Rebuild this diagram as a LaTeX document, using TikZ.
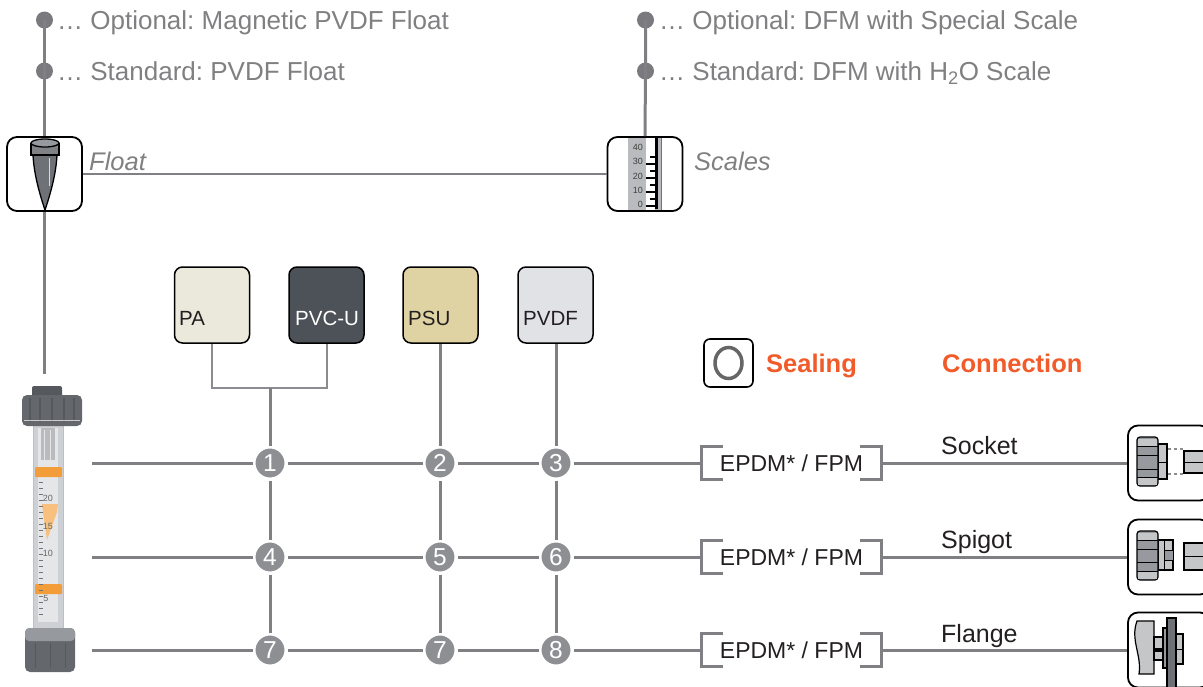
\documentclass[tikz,border=0pt]{standalone}
\usepackage{fontspec}
\setmainfont{Liberation Sans}
\usetikzlibrary{calc}
\definecolor{lg}{RGB}{128,128,132}
\definecolor{lgl}{RGB}{140,140,144}
\definecolor{dotg}{RGB}{122,122,126}
\definecolor{toptxt}{RGB}{128,128,130}
\definecolor{numg}{RGB}{142,143,147}
\definecolor{darktxt}{RGB}{35,31,32}
\definecolor{orng}{RGB}{241,90,41}
\definecolor{paC}{RGB}{235,232,220}
\definecolor{pvcC}{RGB}{77,82,88}
\definecolor{psuC}{RGB}{223,211,164}
\definecolor{pvdfC}{RGB}{225,226,230}
\definecolor{nutD}{RGB}{85,88,93}
\definecolor{nutM}{RGB}{100,103,108}
\definecolor{tubeG}{RGB}{205,208,212}
\definecolor{tubeL}{RGB}{228,230,232}
\definecolor{bandO}{RGB}{243,156,58}
\definecolor{floatO}{RGB}{247,192,126}
\definecolor{iconG}{RGB}{150,153,157}
\definecolor{iconL}{RGB}{196,198,200}
\definecolor{iconD}{RGB}{110,113,118}
\definecolor{scaleG}{RGB}{185,187,190}
\begin{document}
\frenchspacing
\begin{tikzpicture}[x=1pt,y=-1pt,
  mainline/.style={draw=lg, line width=3},
  thinline/.style={draw=lg, line width=2},
  brline/.style={draw=lgl, line width=2},
  brk/.style={draw=lg, line width=3},
  dot/.style={circle, fill=dotg, minimum size=17, inner sep=0},
  iconbox/.style={draw=black, line width=1.8, rounded corners=10, minimum width=75, minimum height=74, inner sep=0},
  matbox/.style={draw=black, line width=1.5, rounded corners=8, minimum width=75, minimum height=76, inner sep=0},
  num/.style={circle, fill=numg, draw=white, line width=3, minimum size=32, inner sep=0, text=white, font=\fontsize{24.5}{28}\selectfont},
  toptext/.style={text=toptxt, inner sep=0, font=\fontsize{26}{30}\selectfont},
  ittext/.style={text=toptxt, inner sep=0, font=\fontsize{25.5}{30}\selectfont\itshape},
  mattext/.style={text=darktxt, inner sep=0, font=\fontsize{20.5}{24}\selectfont},
  sealnode/.style={minimum width=179, minimum height=32, inner sep=0, text=darktxt, font=\fontsize{23}{27}\selectfont},
  conntext/.style={text=darktxt, inner sep=0, font=\fontsize{25}{29}\selectfont},
  headtext/.style={text=orng, inner sep=0, font=\fontsize{25.5}{30}\selectfont\bfseries},
  connbox/.style={draw=black, line width=1.8, rounded corners=10, minimum width=82, minimum height=75, inner sep=0, fill=white},
  tinynum/.style={text=black!75, inner sep=0, font=\fontsize{9}{10}\selectfont}
]
\useasboundingbox (0,0) rectangle (1203,686);
\clip (0,0) rectangle (1203,686);

% ---------- top left ----------
\node[dot] (dL1) at (44.5,20) {};
\node[dot] (dL2) at (44.5,71) {};
\node[toptext, anchor=base west] (tL1) at (57,29) {… Optional: Magnetic PVDF Float};
\node[toptext, anchor=base west] (tL2) at (57,80) {… Standard: PVDF Float};
\node[iconbox, fill=white] (floatbox) at (44.5,174) {};
% float icon
\draw[fill=iconD, line width=1.3] (33,155) .. controls (34,175) and (40,195) .. (45,210) .. controls (50,195) and (56,175) .. (57,155) -- cycle;
\draw[white!70!gray, line width=1.3] (49.5,158) -- (49.5,186);
\draw[fill=iconG!85!black, line width=1.3] (31,143) -- (31,155) -- (59,155) -- (59,143);
\draw[fill=iconG, line width=1.3] (45,143) ellipse [x radius=14, y radius=4];
\node[ittext, anchor=base west] (floatlbl) at (89,170) {Float};

% ---------- top right ----------
\node[dot] (dR1) at (645.5,20) {};
\node[dot] (dR2) at (645.5,71) {};
\node[toptext, anchor=base west] (tR1) at (659,29) {… Optional: DFM with Special Scale};
\node[toptext, anchor=base west] (tR2) at (659,80) {… Standard: DFM with H\textsubscript{2}O Scale};
% scale strip
\fill[scaleG] (628,137) rectangle (662,211);
\fill[white] (646,137) rectangle (655,211);
\draw[black, line width=2.5] (656.5,137) -- (656.5,209);
\draw[black!55, line width=1] (661,137) -- (661,211);
\foreach \yy/\xa in {157/650,164/646,171/650,178/646,185/650,192/646,199/650,206/646}{
  \draw[black, line width=1.6] (\xa,\yy) -- (656,\yy);
}
\foreach \yy/\tt in {147/40,161/30,176/20,190/10,204.5/0}{
  \node[tinynum, anchor=east] at (643,\yy) {\tt};
}
\node[iconbox] (scalebox) at (645,174) {};
\node[ittext, anchor=base west] (scalelbl) at (694,170) {Scales};

\draw[mainline] (dL1.center) -- (dL2.center) -- (floatbox.north);
\coordinate (fmtop) at (44.5,374);
\draw[mainline] (floatbox.south) -- (fmtop);
\draw[mainline] (dR1.center) -- (dR2.center) -- (scalebox.north);
\draw[thinline] (floatbox.east) -- (scalebox.west);

% ---------- flowmeter ----------
\fill[tubeG] (33,424) rectangle (63,628);
\fill[tubeL] (38,428) rectangle (58,622);
\fill[tubeG!90!black] (41,428) rectangle (55,460);
\draw[white!80!gray, line width=1] (44,430) -- (44,460) (50,430) -- (50,460);
\draw[black!25, line width=1] (33,424) -- (33,628) (63,424) -- (63,628);
\fill[nutD, rounded corners=2] (32,386) rectangle (62,398);
\fill[nutM, rounded corners=5] (22,395) rectangle (82,426);
\foreach \xx in {30,40,52,64,74}{ \draw[nutD, line width=1.2] (\xx,398) -- (\xx,422); }
\draw[white!60!gray, line width=0.8] (24,420) -- (80,420);
\fill[bandO, rounded corners=1] (35,467) rectangle (62,477);
\fill[bandO, rounded corners=1] (35,584) rectangle (62,594);
\fill[floatO] (42,504) -- (58,504) -- (57,512) -- (47,540) -- (43,512) -- cycle;
\foreach \yy in {482,488,...,614}{ \draw[black!55, line width=0.8] (39,\yy) -- (43,\yy); }
\node[tinynum, text=black!60] at (48,498) {20};
\node[tinynum, text=black!60] at (48,526) {15};
\node[tinynum, text=black!60] at (48,553) {10};
\node[tinynum, text=black!60] at (46,598) {5};
\fill[nutM, rounded corners=5] (25,628) rectangle (75,672);
\fill[iconG, rounded corners=4] (25,628) rectangle (75,641);
\foreach \xx in {35,50,65}{ \draw[nutD, line width=1] (\xx,643) -- (\xx,668); }

% ---------- materials ----------
\node[matbox, fill=paC] (pa) at (212,305) {};
\node[matbox, fill=pvcC] (pvcu) at (326.5,305) {};
\node[matbox, fill=psuC] (psu) at (440.5,305) {};
\node[matbox, fill=pvdfC] (pvdf) at (555.5,305) {};
\node[mattext, anchor=base west] (paL) at (179,325) {PA};
\node[mattext, anchor=base west, text=white] (pvcL) at (295,325) {PVC-U};
\node[mattext, anchor=base west] (psuL) at (408,325) {PSU};
\node[mattext, anchor=base west] (pvdfL) at (523,325) {PVDF};

% ---------- number grid ----------
\node[num] (c1) at (270,463) {1};
\node[num] (c2) at (440,463) {2};
\node[num] (c3) at (556,463) {3};
\node[num] (c4) at (270,557) {4};
\node[num] (c5) at (440,557) {5};
\node[num] (c6) at (556,557) {6};
\node[num] (c7) at (270,650) {7};
\node[num] (c7b) at (440,650) {7};
\node[num] (c8) at (556,650) {8};

\coordinate (jn) at (270,388);
\draw[brline] (pa.south) |- (jn) -| (pvcu.south);
\draw[mainline] (jn) -- (c1);
\draw[mainline] (c1) -- (c4);
\draw[mainline] (c4) -- (c7);
\draw[mainline] (psu.south -| c2) -- (c2);
\draw[mainline] (c2) -- (c5);
\draw[mainline] (c5) -- (c7b);
\draw[mainline] (pvdf.south -| c3) -- (c3);
\draw[mainline] (c3) -- (c6);
\draw[mainline] (c6) -- (c8);

% ---------- sealing ----------
\node[iconbox, minimum width=49, minimum height=48, rounded corners=6, line width=1.6] (sealicon) at (728.5,363) {};
\draw[draw=black!60, line width=3.5] (sealicon.center) ellipse [x radius=13.5, y radius=15.5];
\node[headtext, anchor=base west] (sealH) at (766,372) {Sealing};
\node[headtext, anchor=base west] (connH) at (942,372) {Connection};

\node[sealnode] (s1) at (791.5,463) {EPDM* / FPM};
\node[sealnode] (s2) at (791.5,557) {EPDM* / FPM};
\node[sealnode] (s3) at (791.5,650) {EPDM* / FPM};
\foreach \s in {s1,s2,s3}{
  \draw[brk] ($(\s.north west)+(21,0)$) -- (\s.north west) -- (\s.south west) -- ++(21,0);
  \draw[brk] ($(\s.north east)+(-21,0)$) -- (\s.north east) -- (\s.south east) -- ++(-21,0);
}

% ---------- connections ----------
\node[connbox] (k1) at (1169,463) {};
\node[connbox] (k2) at (1169,557) {};
\node[connbox] (k3) at (1169,650) {};
\node[conntext, anchor=base west] (socL) at (941,454) {Socket};
\node[conntext, anchor=base west] (spiL) at (941,548) {Spigot};
\node[conntext, anchor=base west] (flaL) at (941,642) {Flange};

% row lines
\coordinate (r1) at (92,463);
\coordinate (r2) at (92,557);
\coordinate (r3) at (92,650);
\draw[mainline] (r1) -- (c1);
\draw[mainline] (c1) -- (c2);
\draw[mainline] (c2) -- (c3);
\draw[mainline] (c3) -- (s1.west);
\draw[mainline] (s1.east) -- (k1.west);
\draw[mainline] (r2) -- (c4);
\draw[mainline] (c4) -- (c5);
\draw[mainline] (c5) -- (c6);
\draw[mainline] (c6) -- (s2.west);
\draw[mainline] (s2.east) -- (k2.west);
\draw[mainline] (r3) -- (c7);
\draw[mainline] (c7) -- (c7b);
\draw[mainline] (c7b) -- (c8);
\draw[mainline] (c8) -- (s3.west);
\draw[mainline] (s3.east) -- (k3.west);

% socket icon
\draw[fill=iconL, line width=1.2] (1158,444) rectangle (1167,479);
\draw[line width=1] (1158,462) -- (1167,462);
\draw[fill=iconG, line width=1.2, rounded corners=3] (1137,437) rectangle (1158,486);
\fill[iconL] (1138,438.5) rectangle (1157,446);
\fill[iconL] (1138,477) rectangle (1157,484.5);
\draw[line width=1] (1137,446) -- (1158,446) (1137,455) -- (1158,455) (1137,469) -- (1158,469) (1137,477) -- (1158,477);
\draw[black!45, line width=1.2, dash pattern=on 3pt off 3pt] (1168,449) -- (1183,449) (1168,474) -- (1183,474);
\draw[fill=iconL, line width=1.2] (1184,451) rectangle (1215,473);
\draw[line width=1] (1184,462) -- (1215,462);

% spigot icon
\draw[fill=iconL, line width=1.2] (1158,540) rectangle (1173,570);
\draw[fill=iconG, line width=1] (1164,550) rectangle (1173,560);
\draw[line width=1] (1164,540) -- (1164,570);
\draw[fill=iconG, line width=1.2, rounded corners=3] (1137,531) rectangle (1158,580);
\fill[iconL] (1138,532.5) rectangle (1157,540);
\fill[iconL] (1138,571) rectangle (1157,578.5);
\draw[line width=1] (1137,540) -- (1158,540) (1137,549) -- (1158,549) (1137,562) -- (1158,562) (1137,571) -- (1158,571);
\draw[fill=iconL, line width=1.2] (1184,543) rectangle (1215,570);
\draw[line width=1] (1184,556) -- (1215,556);

% flange icon
\draw[fill=iconL, line width=1.2] (1137,621) .. controls (1130,640) and (1142,655) .. (1139,674) -- (1154,674) -- (1154,621) -- cycle;
\draw[fill=iconL, line width=1.2] (1154,637) rectangle (1167,660);
\fill[black] (1154,648) rectangle (1168,652);
\draw[fill=iconG, line width=1.2] (1163,628) rectangle (1168,668);
\draw[fill=iconD, line width=1.2] (1167,618) rectangle (1176,690);
\draw[fill=iconL, line width=1.2] (1176,634) rectangle (1183,664);
\draw[line width=1] (1176,649) -- (1183,649);
\end{tikzpicture}
\end{document}
